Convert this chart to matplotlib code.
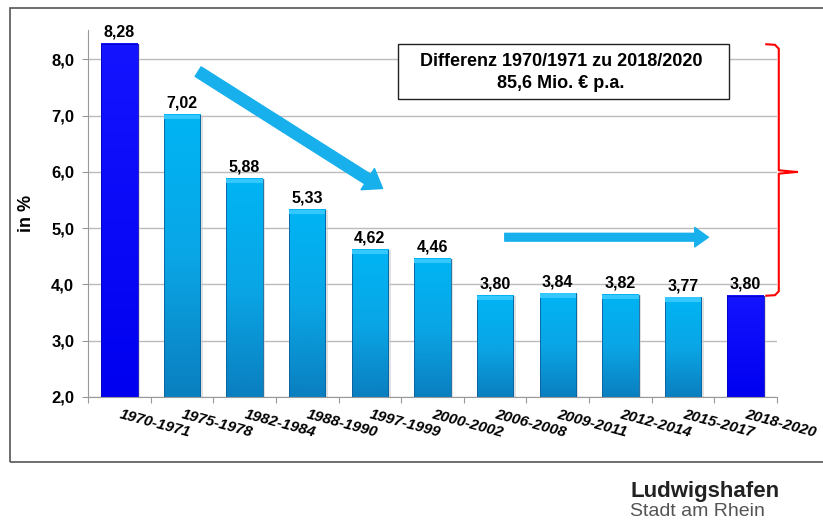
import matplotlib
matplotlib.use("Agg")
import matplotlib.pyplot as plt
from matplotlib.patches import Rectangle, FancyArrowPatch
from matplotlib.colors import LinearSegmentedColormap
import numpy as np

plt.rcParams['font.family'] = ['Liberation Sans', 'DejaVu Sans']

# Daten
perioden = ['1970-1971', '1975-1978', '1982-1984', '1988-1990', '1997-1999',
            '2000-2002', '2006-2008', '2009-2011', '2012-2014', '2015-2017',
            '2018-2020']
werte = [8.28, 7.02, 5.88, 5.33, 4.62, 4.46, 3.80, 3.84, 3.82, 3.77, 3.80]
hervorgehoben = [True, False, False, False, False, False, False, False, False, False, True]
y_ticks = [2.0, 3.0, 4.0, 5.0, 6.0, 7.0, 8.0]

fig = plt.figure(figsize=(8.23, 5.27), dpi=100)
ax = fig.add_axes([0.107, 0.2467, 0.837, 0.696])

# Rahmen um alles
frame = Rectangle((10/823, 1-462/527), 1.2, (462-8)/527, transform=fig.transFigure,
                  fill=False, ec='#555555', lw=1.2, clip_on=False)
fig.patches.append(frame)

breite = 0.58
x = np.arange(len(werte))
grad = np.linspace(0, 1, 100).reshape(-1, 1)
cm_hell = LinearSegmentedColormap.from_list('hell', ['#0A7FC0', '#0AA6E6', '#00B4F4'])
cm_dunkel = LinearSegmentedColormap.from_list('dunkel', ['#0000F0', '#0A0AF8', '#1414FF'])

for i, v in enumerate(werte):
    # schatten
    ax.add_patch(Rectangle((i - breite/2 + 0.04, 2.0), breite, v - 2.0 - 0.01,
                           fc='#cccccc', ec='none', zorder=1.5, alpha=0.6))
    cmap = cm_dunkel if hervorgehoben[i] else cm_hell
    ax.imshow(grad, cmap=cmap, origin='lower', aspect='auto',
              extent=(i - breite/2, i + breite/2, 2.0, v), zorder=2)
    ax.add_patch(Rectangle((i - breite/2, 2.0), breite, v - 2.0, fill=False,
                           ec='#0a5f99' if not hervorgehoben[i] else '#0000c0', lw=0.6, zorder=3))
    if not hervorgehoben[i]:
        ax.add_patch(Rectangle((i - breite/2, v - 0.08), breite, 0.08,
                               fc='#35C8FF', ec='none', zorder=3))
    ax.text(i, v + 0.07, ('%.2f' % v).replace('.', ','), ha='center', va='bottom',
            fontsize=11.5, fontweight='bold', zorder=4)

ax.set_xlim(-0.5, len(werte) - 0.5)
ax.set_ylim(2.0, 8.52)
ax.set_yticks(y_ticks)
ax.set_yticklabels([('%.1f' % t).replace('.', ',') for t in y_ticks],
                   fontsize=12, fontweight='bold')
ax.set_xticks(np.arange(len(werte) + 1) - 0.5)
ax.set_xticklabels([])
for i, p in enumerate(perioden):
    ax.text(i, 1.7, p, rotation=-15, rotation_mode='anchor', ha='left', va='center',
            fontsize=11, fontweight='bold', style='italic')

ax.grid(axis='y', color='#bbbbbb', lw=1.0, zorder=0)
ax.set_axisbelow(True)
for s in ['top', 'right']:
    ax.spines[s].set_visible(False)
ax.spines['left'].set_color('#999999')
ax.spines['bottom'].set_color('#999999')
ax.tick_params(axis='both', color='#999999', length=4, direction='out')
ax.tick_params(axis='y', pad=6)
ax.set_ylabel('in %', fontsize=13, fontweight='bold', labelpad=12)

# Pfeile
pfeil1 = FancyArrowPatch((1.22, 7.81), (4.24, 5.68), arrowstyle='simple,head_width=2.0,head_length=1.4,tail_width=0.9',
                         mutation_scale=9, color='#17B0EC', zorder=5)
ax.add_patch(pfeil1)
pfeil2 = FancyArrowPatch((6.11, 4.84), (9.45, 4.84), arrowstyle='simple,head_width=2.0,head_length=1.4,tail_width=0.8',
                         mutation_scale=7, color='#17B0EC', zorder=5)
ax.add_patch(pfeil2)

# Textbox
box = Rectangle((398/823, 1-99/527), (729-398)/823, 55/527, transform=fig.transFigure,
                fc='white', ec='#222222', lw=1.0, zorder=6)
fig.patches.append(box)
fig.text(561/823, 1-62/527, 'Differenz 1970/1971 zu 2018/2020', ha='center', va='center',
         fontsize=13, fontweight='bold', zorder=7)
fig.text(561/823, 1-84/527, '85,6 Mio. € p.a.', ha='center', va='center',
         fontsize=13, fontweight='bold', zorder=7)

# rote Klammer
bx, tip = 10.53, 10.82
ax.plot([10.33, 10.47, bx, bx, tip], [8.27, 8.26, 8.19, 6.03, 6.0], color='red', lw=1.5, clip_on=False)
ax.plot([10.33, 10.47, bx, bx, tip], [3.80, 3.81, 3.88, 5.97, 6.0], color='red', lw=1.5, clip_on=False)

# Logo
fig.text(630/823, 1-491/527, 'Ludwigshafen', ha='left', va='center', fontsize=16,
         fontweight='bold', color='#222222')
fig.text(630/823, 1-511/527, 'Stadt am Rhein', ha='left', va='center', fontsize=14,
         color='#555555')

fig.savefig('out.png', dpi=100)
